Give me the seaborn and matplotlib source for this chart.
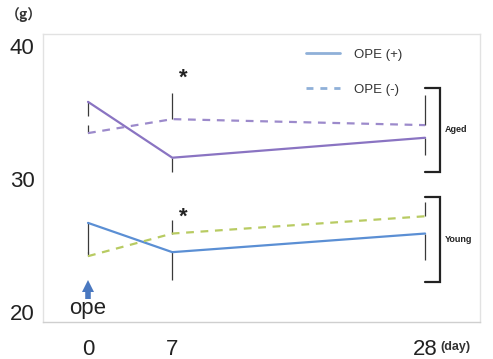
import matplotlib
matplotlib.use("Agg")
import matplotlib.pyplot as plt
from matplotlib.lines import Line2D
import seaborn as sns
import pandas as pd

# ---- data ----
days = [0, 7, 28]
day_labels = ["0", "7", "28"]
aged_ope_pos = [35.8, 31.6, 33.1]
aged_ope_neg = [33.45, 34.5, 34.05]
young_ope_pos = [26.7, 24.5, 25.9]
young_ope_neg = [24.2, 25.9, 27.2]
aged_pos_err_down = [1.1, 1.05, 1.3]
aged_neg_err_up = [0.6, 1.95, 2.25]
young_pos_err_down = [2.25, 2.1, 2.0]
young_neg_err_up = [0.3, 1.0, 1.05]
y_ticks = [20, 30, 40]
legend_labels = ["OPE (+)", "OPE (-)"]

sns.set_style("white")
plt.rcParams['font.family'] = ['Liberation Sans', 'DejaVu Sans']

rows = []
for name, vals, ope in [("Aged +", aged_ope_pos, "+"), ("Aged -", aged_ope_neg, "-"),
                        ("Young +", young_ope_pos, "+"), ("Young -", young_ope_neg, "-")]:
    for d, v in zip(days, vals):
        rows.append({"day": d, "weight": v, "series": name, "ope": ope})
df = pd.DataFrame(rows)

palette = {"Aged +": "#8a74c2", "Aged -": "#9c8acb",
           "Young +": "#5b8fd4", "Young -": "#b8cb62"}
dashes = {"+": "", "-": (3.5, 3)}

fig = plt.figure(figsize=(4.93, 3.59), dpi=100)
ax = fig.add_axes([43/493, 1-322/359, (480-43)/493, (322-34)/359])

# error bars (one-sided)
err_color = "#3a3a3a"
for vals, err, sign in [(aged_ope_pos, aged_pos_err_down, -1), (aged_ope_neg, aged_neg_err_up, 1),
                        (young_ope_pos, young_pos_err_down, -1), (young_ope_neg, young_neg_err_up, 1)]:
    for d, v, e in zip(days, vals, err):
        ax.vlines(d, v, v + sign * e, color=err_color, lw=0.9, zorder=1)

sns.lineplot(data=df, x="day", y="weight", hue="series", style="ope",
             palette=palette, dashes=dashes, linewidth=1.6, legend=False, ax=ax,
             sort=False, estimator=None, zorder=2)

ax.set_xlim(-3.74, 32.56)
ax.set_ylim(19.25, 40.9)
ax.set_xticks(days)
ax.set_xticklabels(day_labels, fontsize=16)
ax.set_yticks(y_ticks)
ax.set_yticklabels([str(t) for t in y_ticks], fontsize=16)
ax.tick_params(axis='x', length=0, pad=12, colors="#222222")
ax.tick_params(axis='y', length=0, pad=6, colors="#222222")
ax.set_xlabel("")
ax.set_ylabel("")
for s in ax.spines.values():
    s.set_color("#e2e2e2")
    s.set_linewidth(1.0)
ax.spines['bottom'].set_color("#cfcfcf")

# asterisks
ax.text(7.9, 37.6, "*", fontsize=16, fontweight='bold', ha='center', va='center', color="#222222")
ax.text(7.9, 27.1, "*", fontsize=16, fontweight='bold', ha='center', va='center', color="#222222")

# brackets
bx0, bx1 = 28.0, 29.25
for ytop, ybot, label in [(36.84, 30.53, "Aged"), (28.65, 22.26, "Young")]:
    ax.plot([bx0, bx1, bx1, bx0], [ytop, ytop, ybot, ybot], color="#222222", lw=1.6,
            clip_on=False, solid_joinstyle='miter')
    ax.text(bx1 + 0.35, (ytop + ybot) / 2, label, fontsize=6.5, fontweight='bold',
            ha='left', va='center', color="#222222")

# ope arrow and label
arrow_color = "#4a78c0"
ax.plot([0, 0], [20.95, 21.75], color=arrow_color, lw=4.0, solid_capstyle='butt')
ax.plot([0], [21.95], marker='^', ms=8, color=arrow_color, markeredgewidth=0)
ax.text(0, 20.25, "ope", fontsize=16, ha='center', va='center', color="#222222")

# legend
handles = [Line2D([0], [0], color="#8fb0d8", lw=2.0),
           Line2D([0], [0], color="#8fb0d8", lw=2.0, dashes=(2.5, 2.5))]
ax.legend(handles, legend_labels, loc='upper left', bbox_to_anchor=(0.575, 0.99),
          frameon=False, fontsize=9.5, handlelength=2.6, labelspacing=1.7,
          handletextpad=1.0, labelcolor="#333333")

# units
fig.text(6/493, 1-15/359, "（g）", fontsize=10, fontweight='bold', ha='left', va='center',
         color="#333333", family=['Noto Sans CJK JP', 'DejaVu Sans'])
fig.text(440/493, 1-347/359, "(day)", fontsize=9, fontweight='bold', ha='left', va='center',
         color="#333333")

fig.savefig("out.png", dpi=100)
